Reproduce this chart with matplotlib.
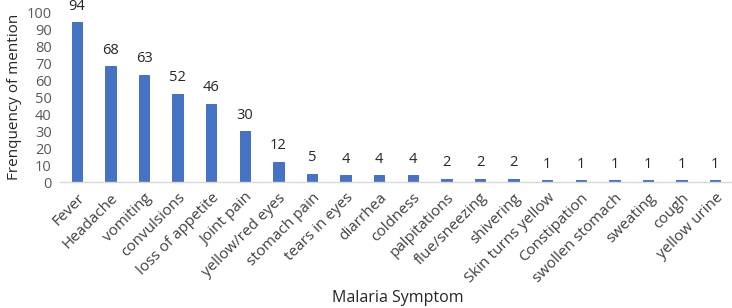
import matplotlib
matplotlib.use("Agg")
import matplotlib.pyplot as plt

symptoms = ["Fever", "Headache", "vomiting", "convulsions", "loss of appetite", "Joint pain",
            "yellow/red eyes", "stomach pain", "tears in eyes", "diarrhea", "coldness",
            "palpitations", "flue/sneezing", "shivering", "Skin turns yellow", "Constipation",
            "swollen stomach", "sweating", "cough", "yellow urine"]
counts = [94, 68, 63, 52, 46, 30, 12, 5, 4, 4, 4, 2, 2, 2, 1, 1, 1, 1, 1, 1]
yticks = list(range(0, 101, 10))

plt.rcParams['font.family'] = ['Open Sans', 'DejaVu Sans']
fig = plt.figure(figsize=(7.32, 3.08), dpi=100)
ax = fig.add_axes([0.082, 0.409, 0.918, 0.552])
x = list(range(len(symptoms)))
bars = ax.bar(x, counts, width=0.31, color="#4472C4", edgecolor="#3A64B4", linewidth=0.6)
for xi, v in zip(x, counts):
    ax.text(xi, v + 5, str(v), ha="center", va="bottom", fontsize=10.5, color="#262626")
ax.set_xlim(-0.5, len(symptoms) - 0.5)
ax.set_ylim(0, 100)
ax.set_yticks(yticks)
ax.tick_params(axis="y", length=0, labelsize=10.5, labelcolor="#595959", pad=6)
ax.tick_params(axis="x", length=0, labelsize=11, labelcolor="#404040", pad=6)
ax.set_xticks(x)
ax.set_xticklabels(symptoms, rotation=45, ha="right", rotation_mode="anchor")
for s in ["top", "right", "left"]:
    ax.spines[s].set_visible(False)
ax.spines["bottom"].set_color("#D9D9D9")
ax.spines["bottom"].set_linewidth(1.0)
ax.set_ylabel("Frenquency of mention", fontsize=11, color="#262626", labelpad=3)
fig.text(0.543, 0.005, "Malaria Symptom", ha="center", va="bottom", fontsize=11.5, color="#262626")
fig.savefig("out.png", dpi=100)
